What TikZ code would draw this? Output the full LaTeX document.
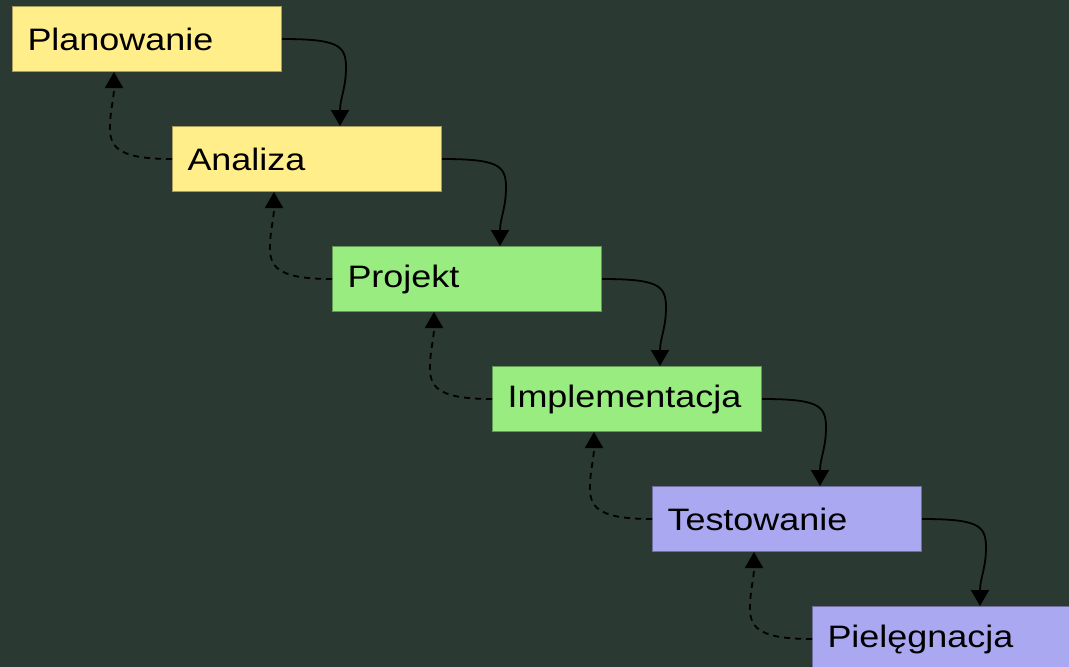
\documentclass[tikz,border=0pt]{standalone}
\usepackage{fontspec}
\setmainfont{Liberation Sans}
\newfontfamily\phasefont[FakeStretch=1.16]{Liberation Sans}
\usetikzlibrary{arrows.meta,calc}
\definecolor{bgcol}{RGB}{42,58,50}
\definecolor{phaseY}{RGB}{255,238,138}
\definecolor{phaseG}{RGB}{152,236,128}
\definecolor{phaseB}{RGB}{170,168,240}
\tikzset{
  phase/.style={draw=#1!65!black, fill=#1, line width=1pt, rectangle, anchor=north west,
    minimum width=269pt, minimum height=65pt, text width=239pt, inner xsep=15pt, inner ysep=0pt,
    align=left, font=\phasefont\fontsize{31}{36}\selectfont, text=black},
  fwd/.style={line width=1.8pt, draw=black, -{Triangle[length=16pt,width=18pt]}},
  back/.style={line width=1.8pt, draw=black, dash pattern=on 6pt off 5pt, -{Triangle[length=16pt,width=18pt]}}
}
\begin{document}
\begin{tikzpicture}[x=1pt,y=-1pt]
  \fill[bgcol] (0,0) rectangle (1069,667);
  \useasboundingbox (0,0) rectangle (1069,667);
  \clip (0,0) rectangle (1069,667);

  \node[phase=phaseY] (p1) at (12,6)   {Planowanie};
  \node[phase=phaseY] (p2) at (172,126) {Analiza};
  \node[phase=phaseG] (p3) at (332,246) {Projekt};
  \node[phase=phaseG] (p4) at (492,366) {Implementacja};
  \node[phase=phaseB] (p5) at (652,486) {Testowanie};
  \node[phase=phaseB] (p6) at (812,606) {Pielęgnacja};

  % forward flow: each phase hands over to the next one
  \foreach \a/\b in {p1/p2,p2/p3,p3/p4,p4/p5,p5/p6}{
    \draw[fwd] (\a.east) .. controls +(55,0) and +(0,-22) .. ++(64,28)
      .. controls +(0,22) and +(0,-28) .. ($(\b.north west)+(168,0)$);
  }
  % feedback: each phase may return to the previous one
  \foreach \a/\b in {p2/p1,p3/p2,p4/p3,p5/p4,p6/p5}{
    \draw[back] (\a.west) .. controls +(-50,0) and +(0,20) .. ++(-62,-30)
      .. controls +(0,-20) and +(0,28) .. ($(\b.south west)+(102,0)$);
  }
\end{tikzpicture}
\end{document}
